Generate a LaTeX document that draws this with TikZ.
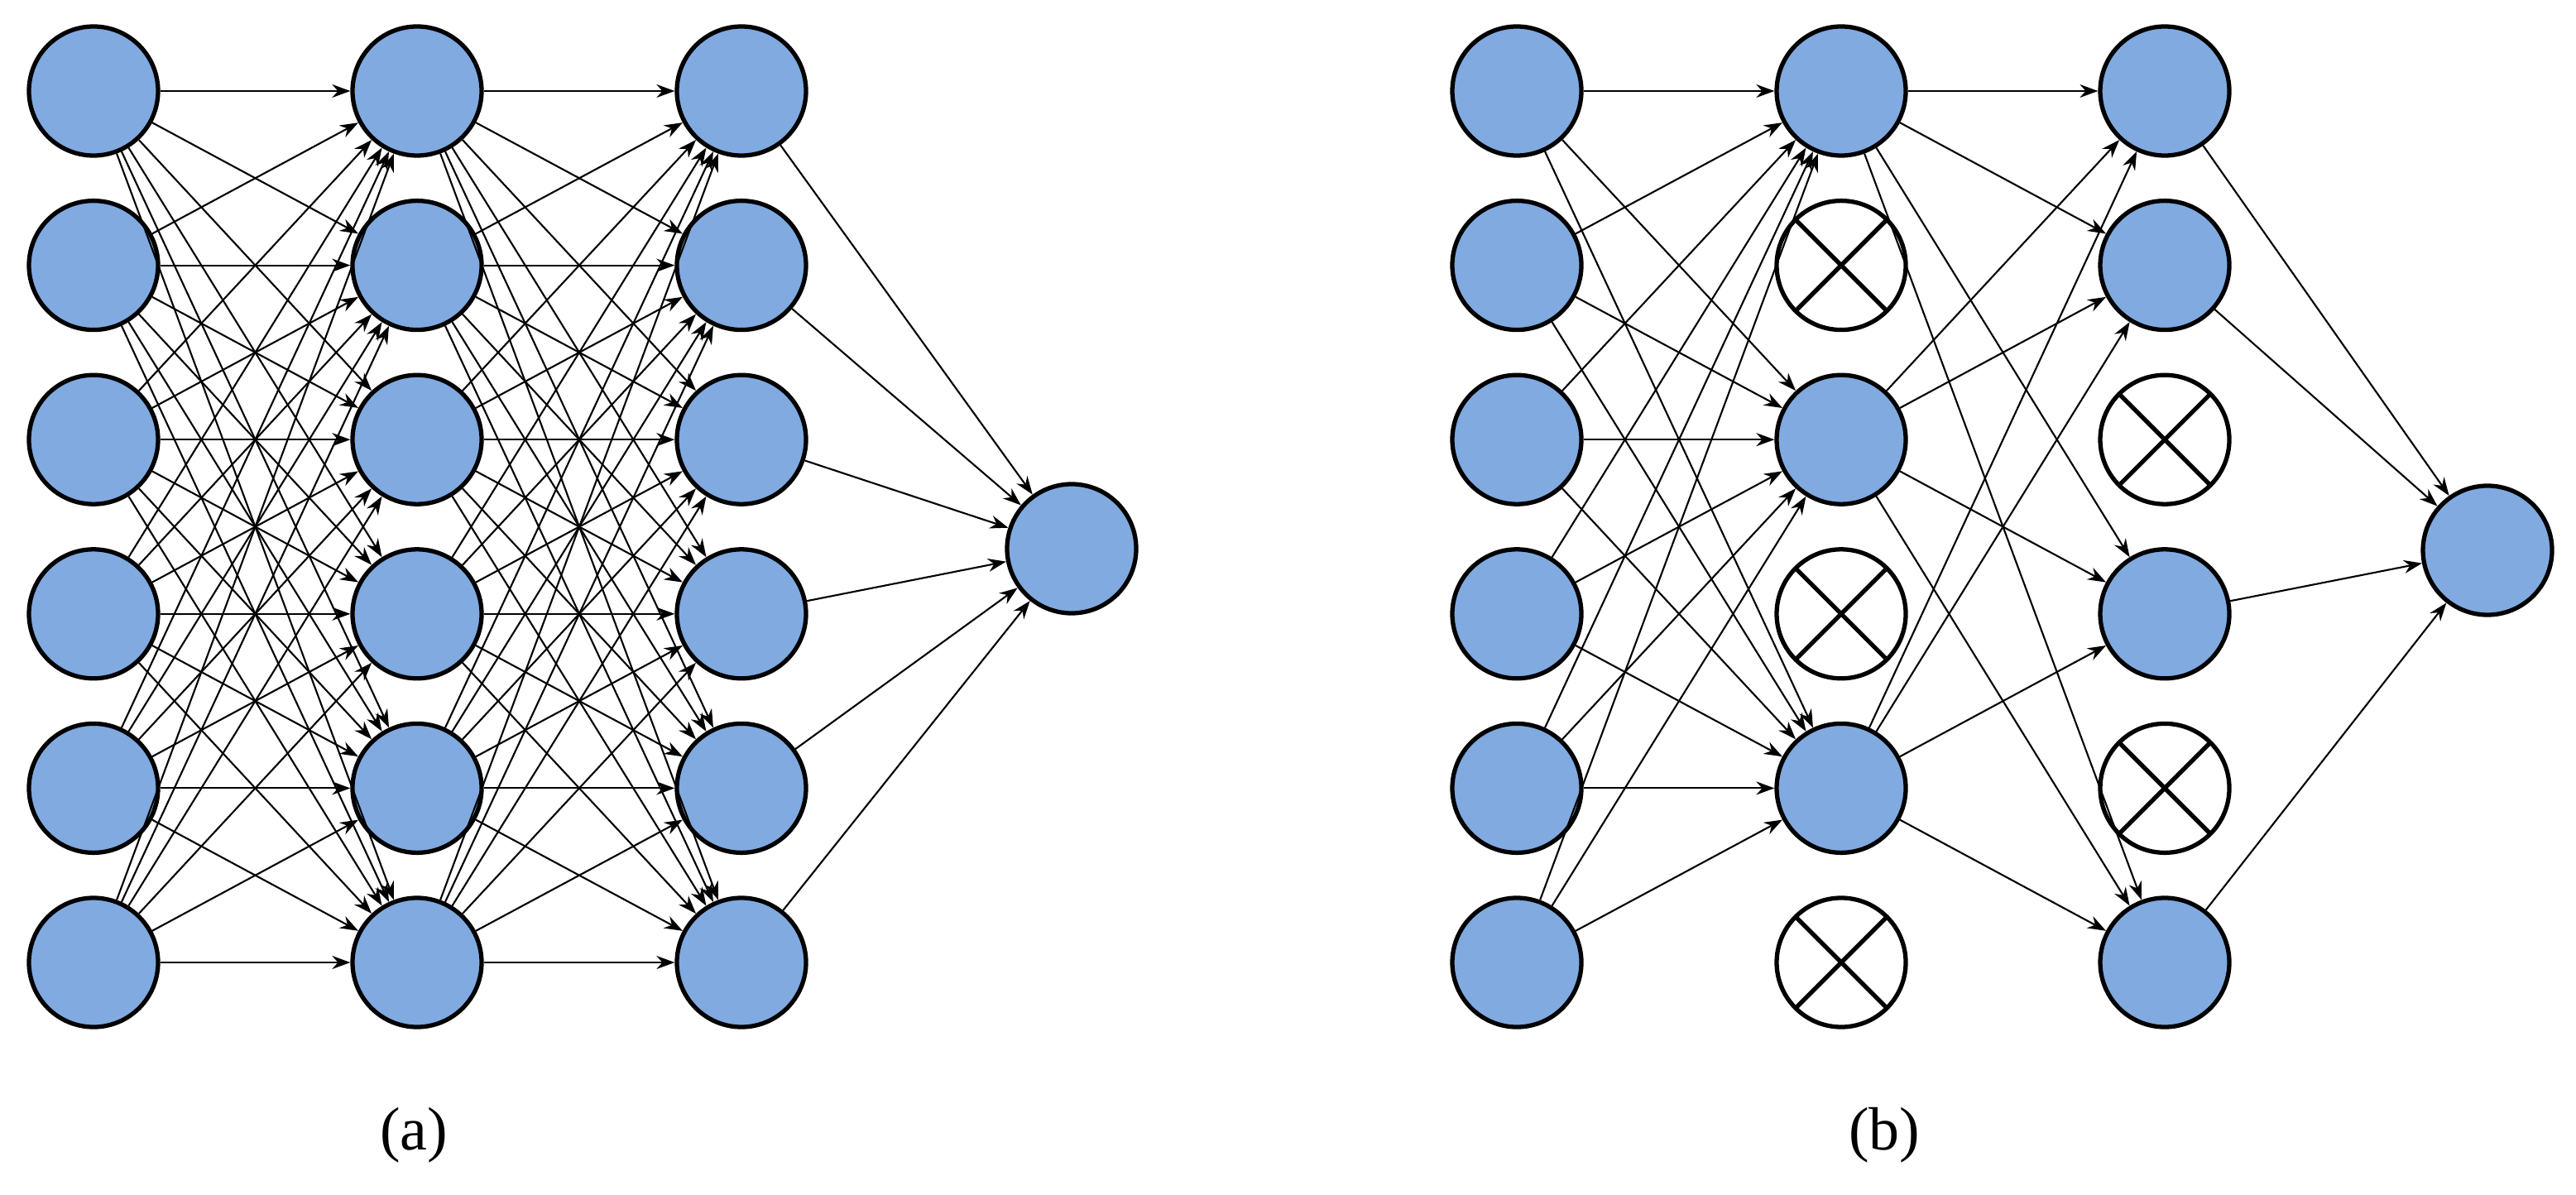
\documentclass[tikz,border=0pt]{standalone}
\usepackage{fontspec}
\setmainfont{Liberation Serif}
\usetikzlibrary{arrows.meta,positioning}
\definecolor{neuronblue}{RGB}{128,170,224}
\tikzset{
	neuron/.style={
		circle,
		draw=black,
		line width=1.5pt,
		fill=neuronblue,
		minimum size=1.56cm,
		inner sep=0pt,
	},
	dropped/.style={
		circle,
		draw=black,
		line width=1.5pt,
		fill=white,
		minimum size=1.56cm,
		inner sep=0pt,
		path picture={
			\draw[line width=1.5pt] (path picture bounding box.north west) -- (path picture bounding box.south east);
			\draw[line width=1.5pt] (path picture bounding box.north east) -- (path picture bounding box.south west);
		},
	},
	link/.style={
		-{Stealth[length=2.2mm,width=1.6mm]},
		line width=0.6pt,
	},
	caption/.style={
		font=\fontsize{21}{25}\selectfont,
	},
}
\begin{document}
\begin{tikzpicture}
	\useasboundingbox (0,0) rectangle (31.13,-14.44);
	% (a) full network
	\foreach \i in {0,...,5} {
		\node [neuron] (ai\i) at (1.13,-1.10-2.106*\i) {};
		\node [neuron] (ah\i) at (5.04,-1.10-2.106*\i) {};
		\node [neuron] (ag\i) at (8.96,-1.10-2.106*\i) {};
	}
	\node [neuron] (ao) at (12.95,-6.63) {};
	\foreach \i in {0,...,5} {
		\foreach \j in {0,...,5} {
			\draw[link] (ai\i) -- (ah\j);
			\draw[link] (ah\i) -- (ag\j);
		}
		\draw[link] (ag\i) -- (ao);
	}
	\node [caption] (capa) at (5.00,-13.72) {(a)};

	% (b) with dropout
	\foreach \i in {0,...,5} {
		\node [neuron] (bi\i) at (18.33,-1.10-2.106*\i) {};
	}
	\foreach \i/\s in {0/neuron,1/dropped,2/neuron,3/dropped,4/neuron,5/dropped} {
		\node [\s] (bh\i) at (22.25,-1.10-2.106*\i) {};
	}
	\foreach \i/\s in {0/neuron,1/neuron,2/dropped,3/neuron,4/dropped,5/neuron} {
		\node [\s] (bg\i) at (26.16,-1.10-2.106*\i) {};
	}
	\node [neuron] (bo) at (30.06,-6.65) {};
	\foreach \j in {0,2,4} {
		\foreach \i in {0,...,5} {
			\draw[link] (bi\i) -- (bh\j);
		}
		\foreach \k in {0,1,3,5} {
			\draw[link] (bh\j) -- (bg\k);
		}
	}
	\foreach \k in {0,1,3,5} {
		\draw[link] (bg\k) -- (bo);
	}
	\node [caption] (capb) at (22.77,-13.72) {(b)};
\end{tikzpicture}
\end{document}
